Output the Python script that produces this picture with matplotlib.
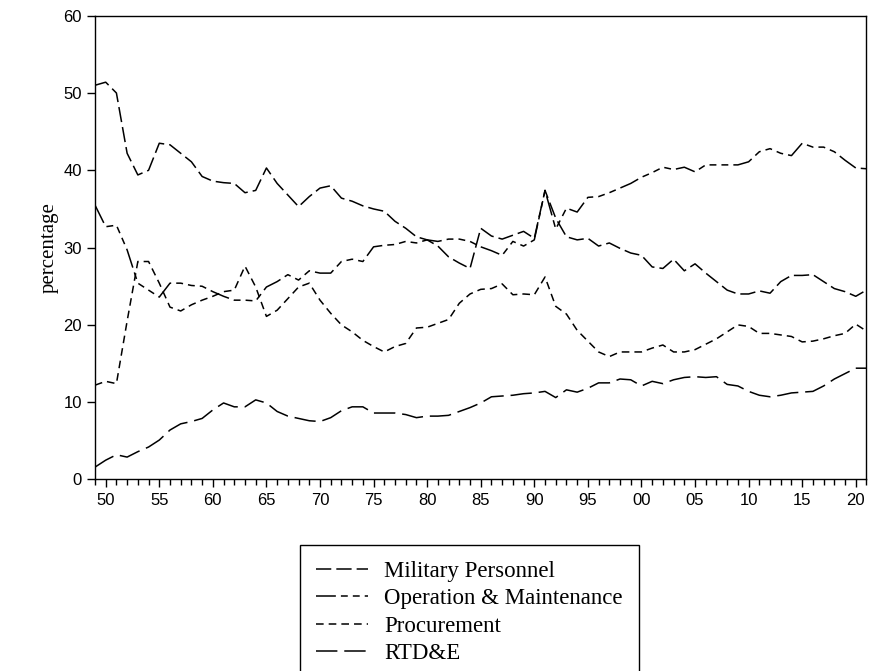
import matplotlib
matplotlib.use("Agg")
import matplotlib.pyplot as plt
from matplotlib.ticker import MultipleLocator

years = list(range(1949, 2022))

military = [51.0, 51.4, 50.0, 42.2, 39.4, 40.0, 43.5, 43.3, 42.2, 41.1,
            39.2, 38.6, 38.4, 38.3, 37.1, 37.4, 40.3, 38.3, 36.8, 35.3,
            36.6, 37.7, 38.0, 36.4, 36.0, 35.4, 35.0, 34.7, 33.4, 32.5,
            31.4, 31.0, 30.2, 28.8, 28.0, 27.3, 32.5, 31.5, 31.1, 31.6,
            32.1, 31.2, 37.4, 33.8, 31.4, 31.0, 31.2, 30.2, 30.6, 29.9,
            29.3, 29.0, 27.5, 27.3, 28.5, 27.0, 27.9, 26.7, 25.6, 24.5,
            24.0, 24.0, 24.4, 24.1, 25.6, 26.4, 26.4, 26.5, 25.6, 24.7,
            24.3, 23.7, 24.5]

operation = [35.5, 32.7, 32.9, 29.7, 25.4, 24.5, 23.6, 25.4, 25.4, 25.1,
             25.0, 24.3, 23.7, 23.2, 23.2, 23.1, 24.9, 25.6, 26.5, 25.8,
             27.0, 26.7, 26.7, 28.2, 28.5, 28.2, 30.1, 30.3, 30.4, 30.8,
             30.6, 31.0, 30.8, 31.1, 31.1, 30.8, 30.1, 29.6, 29.0, 30.8,
             30.2, 31.0, 37.4, 32.4, 35.1, 34.6, 36.5, 36.6, 37.1, 37.7,
             38.3, 39.1, 39.7, 40.4, 40.1, 40.4, 39.8, 40.7, 40.7, 40.7,
             40.7, 41.1, 42.4, 42.8, 42.2, 41.9, 43.5, 43.0, 43.0, 42.4,
             41.3, 40.3, 40.2]

procurement = [12.2, 12.7, 12.4, 20.5, 28.2, 28.2, 25.4, 22.3, 21.8, 22.6,
               23.2, 23.7, 24.3, 24.5, 27.6, 24.9, 21.1, 21.9, 23.4, 24.9,
               25.4, 23.2, 21.5, 20.0, 19.1, 18.0, 17.2, 16.5, 17.2, 17.6,
               19.6, 19.7, 20.2, 20.7, 22.8, 24.0, 24.6, 24.7, 25.3, 23.9,
               24.0, 23.9, 26.2, 22.4, 21.4, 19.3, 17.9, 16.5, 15.9, 16.5,
               16.5, 16.5, 17.0, 17.4, 16.5, 16.5, 16.8, 17.5, 18.2, 19.1,
               20.0, 19.8, 18.9, 18.9, 18.7, 18.5, 17.8, 17.9, 18.2, 18.6,
               18.9, 20.1, 19.2]

rtde = [1.6, 2.5, 3.2, 2.9, 3.6, 4.2, 5.1, 6.4, 7.2, 7.5,
        7.9, 9.0, 9.9, 9.4, 9.4, 10.3, 9.9, 8.8, 8.2, 7.9,
        7.6, 7.5, 8.0, 8.9, 9.4, 9.4, 8.6, 8.6, 8.6, 8.4,
        8.0, 8.2, 8.2, 8.3, 8.8, 9.3, 9.9, 10.7, 10.8, 10.9,
        11.1, 11.2, 11.4, 10.6, 11.6, 11.3, 11.8, 12.5, 12.5, 13.0,
        12.9, 12.1, 12.7, 12.4, 12.9, 13.2, 13.3, 13.2, 13.3, 12.3,
        12.1, 11.4, 10.9, 10.7, 10.9, 11.2, 11.3, 11.4, 12.1, 13.0,
        13.7, 14.4, 14.4]

labels = ["Military Personnel", "Operation & Maintenance", "Procurement", "RTD&E"]
tick_years = list(range(1950, 2021, 5))
tick_labels = ["%02d" % (y % 100) for y in tick_years]

serif = ["Liberation Serif", "DejaVu Serif"]
sans = ["Liberation Sans", "DejaVu Sans"]

fig = plt.figure(figsize=(8.69, 6.71), dpi=100)
ax = fig.add_axes([0.1093, 0.2854, 0.8878, 0.6912])

lw = 1.1
ax.plot(years, military, color="k", lw=lw, dashes=(10, 3.3), label=labels[0])
ax.plot(years, operation, color="k", lw=lw,
        dashes=(13, 3.3, 4.5, 3.3, 4.5, 3.3, 4.5, 3.3), label=labels[1])
ax.plot(years, procurement, color="k", lw=lw, dashes=(5, 3.3), label=labels[2])
ax.plot(years, rtde, color="k", lw=lw, dashes=(14, 4.5), label=labels[3])

ax.set_xlim(1949, 2021)
ax.set_ylim(0, 60)
ax.set_xticks(tick_years)
ax.set_xticklabels(tick_labels)
ax.xaxis.set_minor_locator(MultipleLocator(1))
ax.set_yticks(range(0, 61, 10))

ax.tick_params(axis="both", which="major", direction="out", length=6,
               width=1, labelsize=12, colors="k")
ax.tick_params(axis="x", which="minor", direction="out", length=4, width=1)
for t in ax.get_xticklabels() + ax.get_yticklabels():
    t.set_family(sans)
for s in ax.spines.values():
    s.set_linewidth(1.0)
    s.set_color("k")

ax.set_ylabel("percentage", family=serif, fontsize=15, labelpad=3)

leg = fig.legend(loc="upper center", bbox_to_anchor=(0.54, 0.188),
                 prop={"family": serif, "size": 16.5}, frameon=True,
                 fancybox=False, edgecolor="k", framealpha=1,
                 handlelength=2.3, handletextpad=0.7, labelspacing=0.28,
                 borderpad=0.7, borderaxespad=0)
leg.get_frame().set_linewidth(1.0)

fig.savefig("out.png", dpi=100)
